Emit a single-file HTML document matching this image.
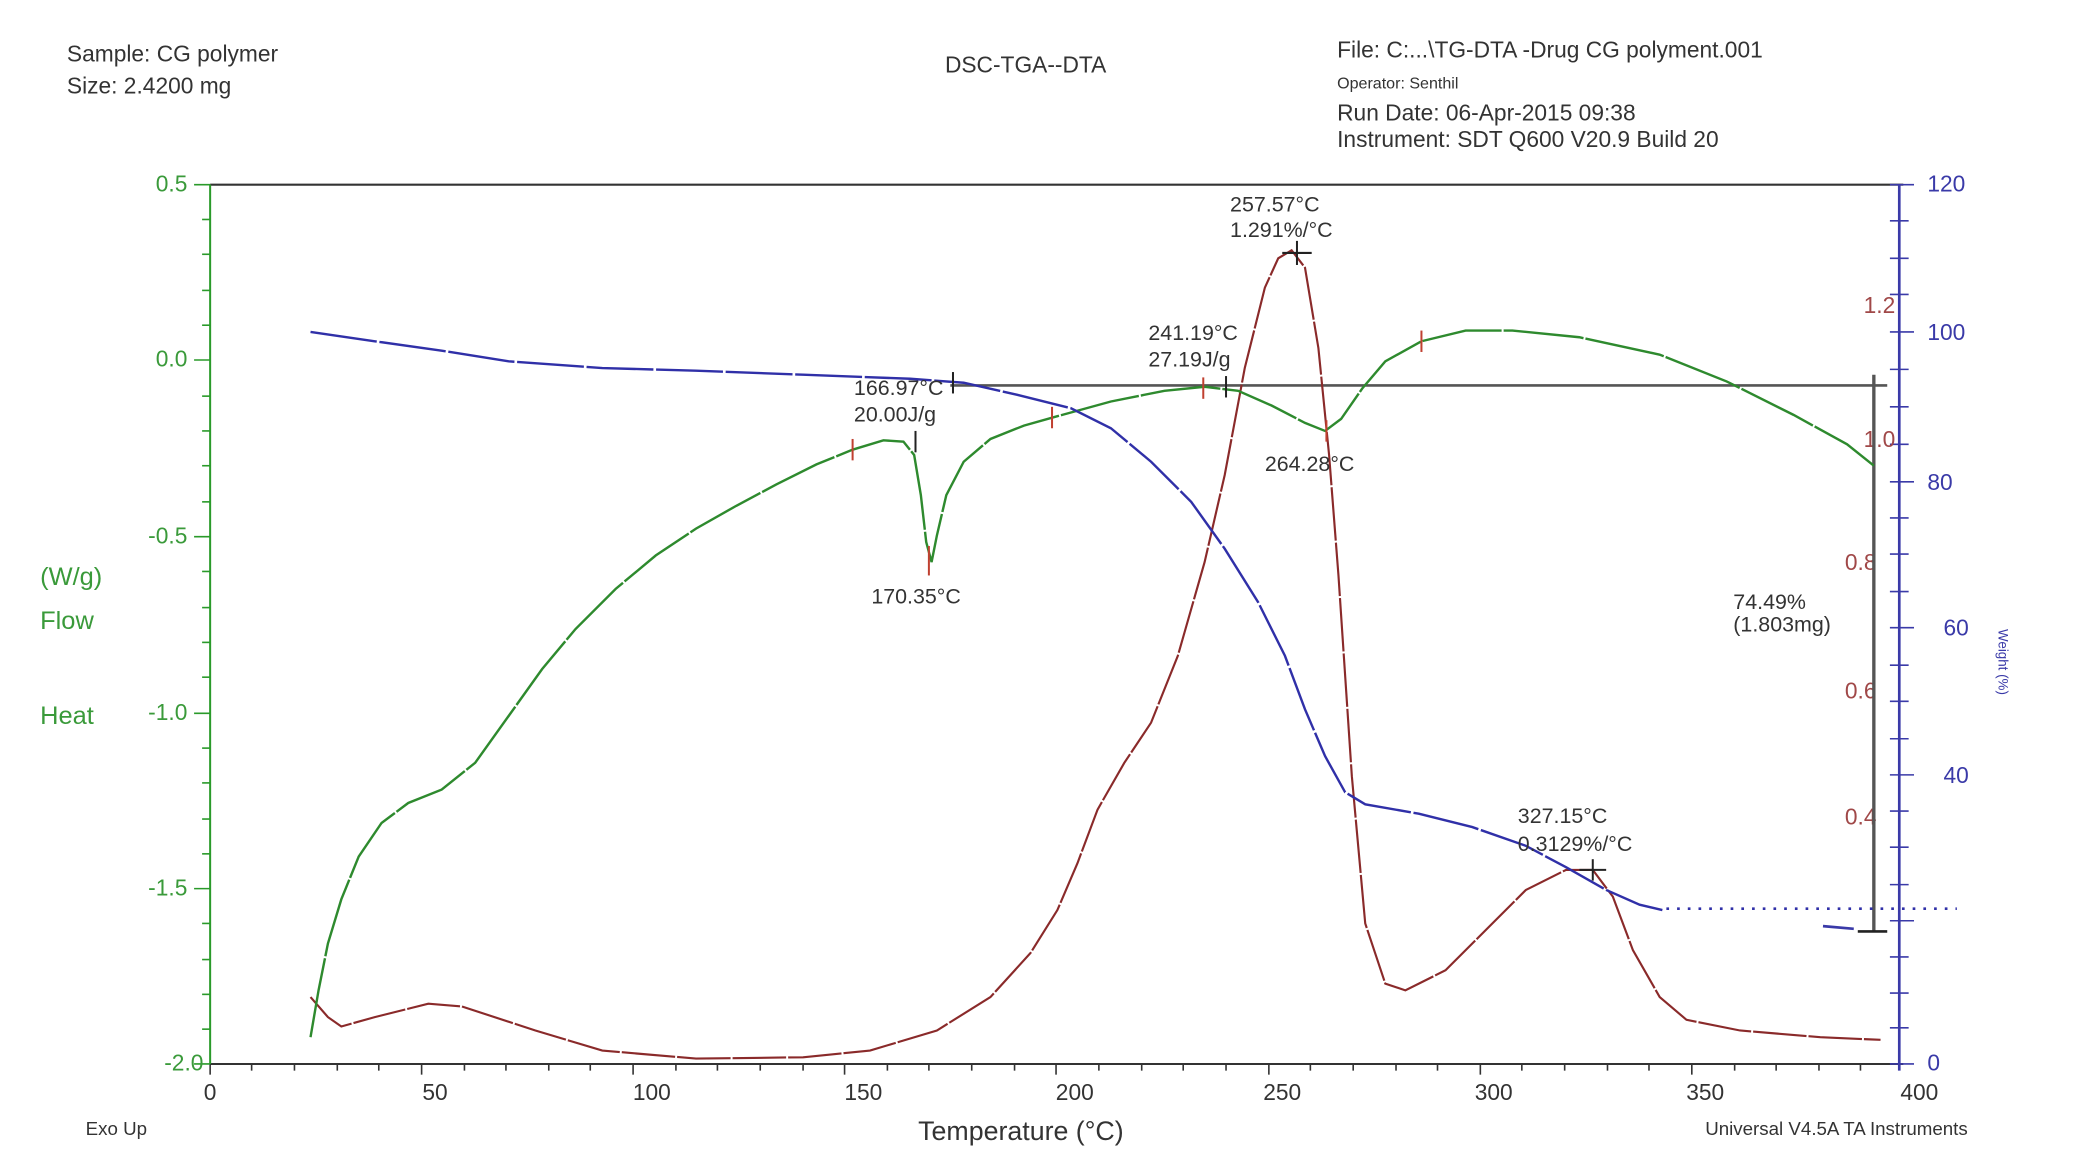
<!DOCTYPE html>
<html><head><meta charset="utf-8"><style>
html,body{margin:0;padding:0;background:#fff;}
svg{display:block;}
text{font-family:"Liberation Sans",sans-serif;}
</style></head><body>
<svg width="2088" height="1167" viewBox="0 0 1560 872" preserveAspectRatio="none" xmlns="http://www.w3.org/2000/svg">
<g font-size="17" fill="#333">
<text x="50" y="46">Sample: CG polymer</text>
<text x="50" y="70">Size: 2.4200 mg</text>
<text x="706" y="54">DSC-TGA‑-DTA</text>
<text x="999" y="43">File: C:...\TG-DTA -Drug CG polyment.001</text>
<text x="999" y="66" font-size="12">Operator: Senthil</text>
<text x="999" y="90">Run Date: 06-Apr-2015 09:38</text>
<text x="999" y="110">Instrument: SDT Q600 V20.9 Build 20</text>
<text x="64" y="848" font-size="14">Exo Up</text>
<text x="686" y="852" font-size="20">Temperature (°C)</text>
<text x="1274" y="848" font-size="14">Universal V4.5A TA Instruments</text>
</g>
<line x1="157" y1="138" x2="1422" y2="138" stroke="#333" stroke-width="1.5"/>
<line x1="157" y1="795" x2="1422" y2="795" stroke="#333" stroke-width="1.5"/>
<line x1="157" y1="138" x2="157" y2="795" stroke="#2a9a2a" stroke-width="1.5"/>
<line x1="1419" y1="138" x2="1419" y2="800" stroke="#3a3aa8" stroke-width="2"/>
<g stroke="#333" stroke-width="1.2">
<line x1="157" y1="795" x2="157" y2="803"/><line x1="315" y1="795" x2="315" y2="803"/><line x1="473" y1="795" x2="473" y2="803"/><line x1="631" y1="795" x2="631" y2="803"/><line x1="789" y1="795" x2="789" y2="803"/><line x1="948" y1="795" x2="948" y2="803"/><line x1="1106" y1="795" x2="1106" y2="803"/><line x1="1264" y1="795" x2="1264" y2="803"/>
<line x1="188" y1="795" x2="188" y2="800"/><line x1="220" y1="795" x2="220" y2="800"/><line x1="252" y1="795" x2="252" y2="800"/><line x1="283" y1="795" x2="283" y2="800"/><line x1="347" y1="795" x2="347" y2="800"/><line x1="378" y1="795" x2="378" y2="800"/><line x1="410" y1="795" x2="410" y2="800"/><line x1="441" y1="795" x2="441" y2="800"/><line x1="505" y1="795" x2="505" y2="800"/><line x1="536" y1="795" x2="536" y2="800"/><line x1="568" y1="795" x2="568" y2="800"/><line x1="600" y1="795" x2="600" y2="800"/><line x1="663" y1="795" x2="663" y2="800"/><line x1="694" y1="795" x2="694" y2="800"/><line x1="726" y1="795" x2="726" y2="800"/><line x1="758" y1="795" x2="758" y2="800"/><line x1="821" y1="795" x2="821" y2="800"/><line x1="853" y1="795" x2="853" y2="800"/><line x1="884" y1="795" x2="884" y2="800"/><line x1="916" y1="795" x2="916" y2="800"/><line x1="979" y1="795" x2="979" y2="800"/><line x1="1011" y1="795" x2="1011" y2="800"/><line x1="1043" y1="795" x2="1043" y2="800"/><line x1="1074" y1="795" x2="1074" y2="800"/><line x1="1137" y1="795" x2="1137" y2="800"/><line x1="1169" y1="795" x2="1169" y2="800"/><line x1="1201" y1="795" x2="1201" y2="800"/><line x1="1232" y1="795" x2="1232" y2="800"/><line x1="1296" y1="795" x2="1296" y2="800"/><line x1="1327" y1="795" x2="1327" y2="800"/><line x1="1359" y1="795" x2="1359" y2="800"/><line x1="1390" y1="795" x2="1390" y2="800"/>
</g>
<g font-size="17" fill="#333" text-anchor="middle">
<text x="157" y="822">0</text><text x="325" y="822">50</text><text x="487" y="822">100</text><text x="645" y="822">150</text><text x="803" y="822">200</text><text x="958" y="822">250</text><text x="1116" y="822">300</text><text x="1274" y="822">350</text><text x="1434" y="822">400</text>
</g>
<g stroke="#2a9a2a" stroke-width="1.2">
<line x1="145" y1="138" x2="157" y2="138"/><line x1="145" y1="269" x2="157" y2="269"/><line x1="145" y1="401" x2="157" y2="401"/><line x1="145" y1="533" x2="157" y2="533"/><line x1="145" y1="664" x2="157" y2="664"/><line x1="145" y1="795" x2="157" y2="795"/>
<line x1="151" y1="164" x2="157" y2="164"/><line x1="151" y1="190" x2="157" y2="190"/><line x1="151" y1="217" x2="157" y2="217"/><line x1="151" y1="243" x2="157" y2="243"/><line x1="151" y1="296" x2="157" y2="296"/><line x1="151" y1="322" x2="157" y2="322"/><line x1="151" y1="348" x2="157" y2="348"/><line x1="151" y1="375" x2="157" y2="375"/><line x1="151" y1="427" x2="157" y2="427"/><line x1="151" y1="454" x2="157" y2="454"/><line x1="151" y1="480" x2="157" y2="480"/><line x1="151" y1="506" x2="157" y2="506"/><line x1="151" y1="559" x2="157" y2="559"/><line x1="151" y1="585" x2="157" y2="585"/><line x1="151" y1="612" x2="157" y2="612"/><line x1="151" y1="638" x2="157" y2="638"/><line x1="151" y1="690" x2="157" y2="690"/><line x1="151" y1="717" x2="157" y2="717"/><line x1="151" y1="743" x2="157" y2="743"/><line x1="151" y1="769" x2="157" y2="769"/>
</g>
<g font-size="17" fill="#3a9a3a" text-anchor="end">
<text x="140" y="143">0.5</text><text x="140" y="274">0.0</text><text x="140" y="406">-0.5</text><text x="140" y="538">-1.0</text><text x="140" y="669">-1.5</text><text x="152" y="800">-2.0</text>
</g>
<g font-size="19" fill="#3a9a3a">
<text x="30" y="437">(W/g)</text><text x="30" y="470">Flow</text><text x="30" y="541">Heat</text>
</g>
<g stroke="#3a3aa8" stroke-width="1.2">
<line x1="1412" y1="138" x2="1430" y2="138"/><line x1="1412" y1="248" x2="1430" y2="248"/><line x1="1412" y1="360" x2="1430" y2="360"/><line x1="1412" y1="469" x2="1430" y2="469"/><line x1="1412" y1="579" x2="1430" y2="579"/><line x1="1412" y1="688" x2="1430" y2="688"/><line x1="1412" y1="795" x2="1430" y2="795"/>
<line x1="1412" y1="165" x2="1426" y2="165"/><line x1="1412" y1="193" x2="1426" y2="193"/><line x1="1412" y1="220" x2="1426" y2="220"/><line x1="1412" y1="276" x2="1426" y2="276"/><line x1="1412" y1="304" x2="1426" y2="304"/><line x1="1412" y1="332" x2="1426" y2="332"/><line x1="1412" y1="387" x2="1426" y2="387"/><line x1="1412" y1="414" x2="1426" y2="414"/><line x1="1412" y1="442" x2="1426" y2="442"/><line x1="1412" y1="497" x2="1426" y2="497"/><line x1="1412" y1="524" x2="1426" y2="524"/><line x1="1412" y1="552" x2="1426" y2="552"/><line x1="1412" y1="606" x2="1426" y2="606"/><line x1="1412" y1="633" x2="1426" y2="633"/><line x1="1412" y1="661" x2="1426" y2="661"/><line x1="1412" y1="715" x2="1426" y2="715"/><line x1="1412" y1="742" x2="1426" y2="742"/><line x1="1412" y1="768" x2="1426" y2="768"/>
</g>
<g font-size="17" fill="#3a3aa8">
<text x="1440" y="143">120</text><text x="1440" y="254">100</text><text x="1440" y="366">80</text><text x="1452" y="475">60</text><text x="1452" y="585">40</text><text x="1440" y="800">0</text>
<text x="1493" y="470" font-size="10" transform="rotate(90 1493 470)">Weight (%)</text>
</g>
<g font-size="17" fill="#a04848" text-anchor="end">
<text x="1416" y="234">1.2</text><text x="1416" y="334">1.0</text><text x="1402" y="426">0.8</text><text x="1402" y="522">0.6</text><text x="1402" y="616">0.4</text>
</g>
<line x1="710" y1="288" x2="1410" y2="288" stroke="#555" stroke-width="2"/>
<line x1="1400" y1="280" x2="1400" y2="696" stroke="#555" stroke-width="2.5"/>
<line x1="1388" y1="696" x2="1410" y2="696" stroke="#222" stroke-width="2"/>
<line x1="1362" y1="692" x2="1385" y2="694" stroke="#3a3aa8" stroke-width="2"/>
<polyline fill="none" stroke="#8a2a2a" stroke-width="1.6" points="232,745 245,760 255,767 280,760 320,750 345,752 400,770 450,785 520,791 600,790 650,785 700,770 740,745 770,712 790,680 805,645 820,605 840,570 860,540 880,490 900,420 915,355 930,275 945,215 955,193 965,187 975,200 985,260 993,340 1000,430 1010,580 1020,690 1035,735 1050,740 1080,725 1110,695 1140,665 1170,650 1190,650 1205,670 1220,710 1240,745 1260,762 1300,770 1360,775 1405,777" stroke-dasharray="40 1.5"/>
<polyline fill="none" stroke="#2e8a2e" stroke-width="1.8" points="232,775 238,740 245,705 255,672 268,640 285,615 305,600 330,590 355,570 380,535 405,500 430,470 460,440 490,415 520,395 550,378 580,362 610,347 637,336 660,329 675,330 683,340 688,370 692,405 696,420 700,400 707,370 720,345 740,328 765,318 790,311 830,300 870,292 900,289 925,292 950,303 975,316 990,322 1002,313 1018,290 1035,270 1062,255 1095,247 1130,247 1180,252 1240,265 1290,285 1340,310 1380,332 1400,348" stroke-dasharray="60 1.5"/>
<polyline fill="none" stroke="#3030a8" stroke-width="1.8" points="232,248 280,255 330,262 380,270 450,275 520,277 600,280 680,283 720,286 760,295 800,305 830,320 860,345 890,375 915,410 940,450 960,490 975,530 990,565 1005,592 1020,601 1060,608 1100,618 1140,632 1170,648 1200,665 1225,676 1242,680" stroke-dasharray="50 2"/>
<line x1="1245" y1="679" x2="1462" y2="679" stroke="#3030a8" stroke-width="2" stroke-dasharray="2 6"/>
<g stroke="#c04030" stroke-width="1.5">
<line x1="637" y1="328" x2="637" y2="344"/><line x1="694" y1="408" x2="694" y2="430"/><line x1="786" y1="304" x2="786" y2="320"/><line x1="899" y1="282" x2="899" y2="298"/><line x1="991" y1="314" x2="991" y2="330"/><line x1="1062" y1="247" x2="1062" y2="263"/>
</g>
<g stroke="#222" stroke-width="1.5">
<line x1="684" y1="322" x2="684" y2="338"/><line x1="712" y1="278" x2="712" y2="294"/><line x1="916" y1="281" x2="916" y2="297"/>
<line x1="958" y1="189" x2="980" y2="189"/><line x1="969" y1="180" x2="969" y2="198"/>
<line x1="1180" y1="650" x2="1200" y2="650"/><line x1="1190" y1="642" x2="1190" y2="658"/>
</g>
<g font-size="16" fill="#333">
<text x="919" y="158">257.57°C</text><text x="919" y="177">1.291%/°C</text>
<text x="858" y="254">241.19°C</text><text x="858" y="274">27.19J/g</text>
<text x="638" y="295">166.97°C</text><text x="638" y="315">20.00J/g</text>
<text x="945" y="352">264.28°C</text>
<text x="651" y="451">170.35°C</text>
<text x="1295" y="455">74.49%</text><text x="1295" y="472">(1.803mg)</text>
<text x="1134" y="615">327.15°C</text><text x="1134" y="636">0.3129%/°C</text>
</g>
</svg>
</body></html>
